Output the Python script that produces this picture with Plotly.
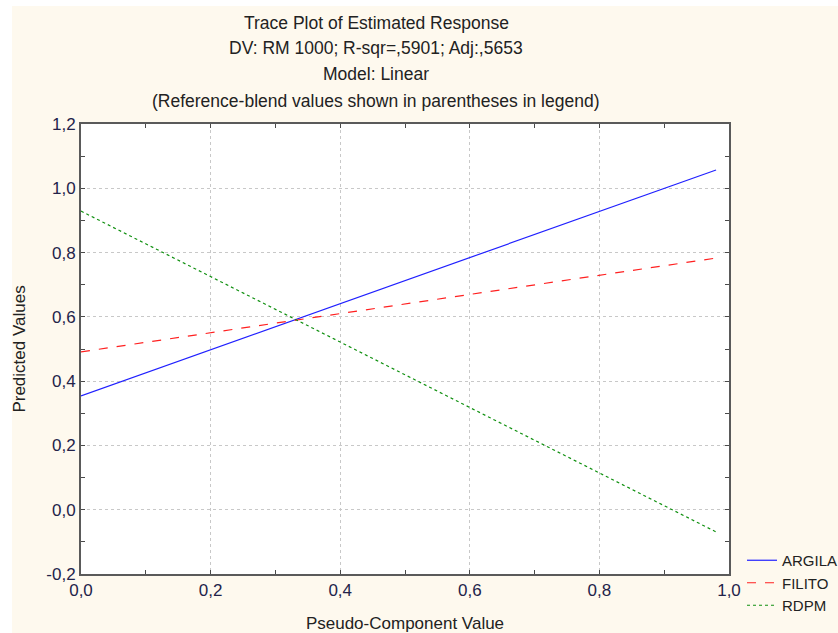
import plotly.graph_objects as go

# Data
x_vals = [0.0, 0.98]
argila = [0.354, 1.057]
filito = [0.491, 0.783]
rdpm = [0.929, -0.069]

series_names = ["ARGILA", "FILITO", "RDPM"]
series_colors = ["#2020ff", "#ff2020", "#109010"]
series_dash = ["solid", "dash", "dot"]

x_tickvals = [0.0, 0.2, 0.4, 0.6, 0.8, 1.0]
x_ticktext = ["0,0", "0,2", "0,4", "0,6", "0,8", "1,0"]
y_tickvals = [-0.2, 0.0, 0.2, 0.4, 0.6, 0.8, 1.0, 1.2]
y_ticktext = ["-0,2", "0,0", "0,2", "0,4", "0,6", "0,8", "1,0", "1,2"]

title_lines = [
    "Trace Plot of Estimated Response",
    "DV: RM 1000; R-sqr=,5901; Adj:,5653",
    "Model: Linear",
    "(Reference-blend values shown in parentheses in legend)",
]

W, H = 838, 633
L, R, T, B = 81, 729, 124, 574

fig = go.Figure()
for name, ys, col, dash in zip(series_names, [argila, filito, rdpm], series_colors, series_dash):
    fig.add_trace(go.Scatter(x=x_vals, y=ys, mode="lines", name=name,
                             line=dict(color=col, width=1.2, dash=dash)))

def py(ypix):
    return (B - ypix) / (B - T)

def px(xpix):
    return (xpix - L) / (R - L)

font_fam = "Liberation Sans, Arial, sans-serif"
tick_col = "#23234a"

axis_common = dict(
    showline=True, linecolor="#5a5a5a", linewidth=2, mirror="ticks",
    ticks="inside", ticklen=4, tickcolor="#4a4a4a", tickwidth=1,
    showgrid=True, gridcolor="#c8c8c8", griddash="dot", gridwidth=1,
    zeroline=False, automargin=False, tickmode="array",
    tickfont=dict(size=17, color=tick_col, family=font_fam),
    minor=dict(ticks="inside", dtick=0.1, ticklen=4, tickcolor="#4a4a4a", showgrid=False),
)

fig.update_xaxes(range=[0, 1], tickvals=x_tickvals, ticktext=x_ticktext,
                 title=dict(text="Pseudo-Component Value", font=dict(size=17, color="#222", family=font_fam), standoff=18),
                 **axis_common)
fig.update_yaxes(range=[-0.2, 1.2], tickvals=y_tickvals, ticktext=y_ticktext,
                 title=dict(text="Predicted Values", font=dict(size=17, color="#222", family=font_fam), standoff=16),
                 **axis_common)

annotations = []
for line, yc in zip(title_lines, [23, 48, 74, 101]):
    annotations.append(dict(text=line, xref="paper", yref="paper", x=px(376), y=py(yc),
                            xanchor="center", yanchor="middle", showarrow=False,
                            font=dict(size=17.5, color="#222", family=font_fam)))

shapes = [
    dict(type="rect", xref="paper", yref="paper", x0=px(-5), x1=px(12), y0=py(H + 5), y1=py(-5),
         fillcolor="white", line=dict(width=0), layer="below"),
    dict(type="rect", xref="paper", yref="paper", x0=px(-5), x1=px(W + 5), y0=py(6), y1=py(-5),
         fillcolor="white", line=dict(width=0), layer="below"),
]

fig.update_layout(
    width=W, height=H,
    margin=dict(l=L, r=W - R, t=T, b=H - B, autoexpand=False),
    paper_bgcolor="#fef9ee", plot_bgcolor="white",
    font=dict(family=font_fam, size=16, color="#222"),
    showlegend=True,
    legend=dict(x=px(742), y=py(544), xanchor="left", yanchor="top",
                bgcolor="rgba(0,0,0,0)", borderwidth=0,
                font=dict(size=15, color="#222", family=font_fam),
                tracegroupgap=0, itemwidth=30),
    annotations=annotations,
    shapes=shapes,
)

fig.write_html("out.html", config={"displayModeBar": False},
               post_script="document.body.style.margin='0';document.body.style.overflow='hidden';")
